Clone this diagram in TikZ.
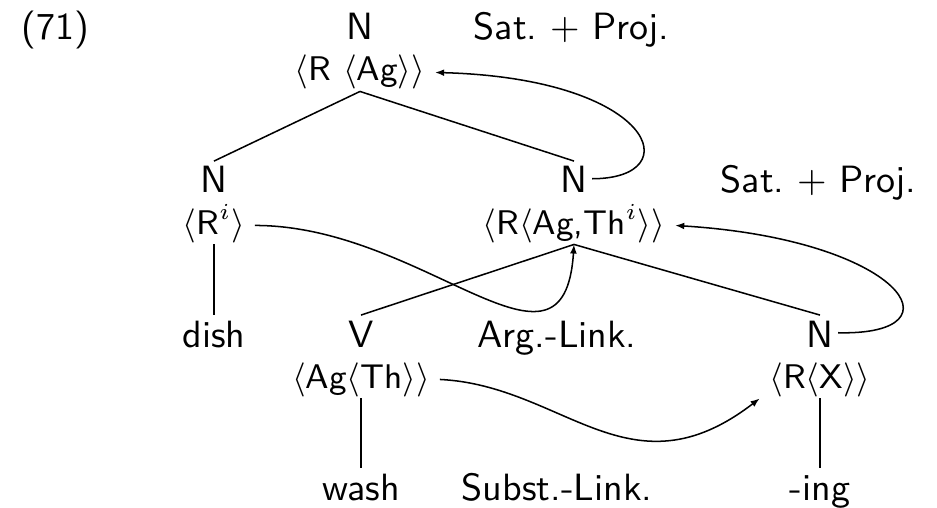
\documentclass[tikz,border=0pt]{standalone}
\usetikzlibrary{arrows.meta}
\begin{document}
\begin{tikzpicture}[x=0.26316pt, y=-0.26316pt,
  cat/.style={font=\sffamily, text height=7.5pt, text depth=0pt, inner xsep=1pt, inner ysep=0.7pt, anchor=base},
  attr/.style={font=\sffamily\small, text height=6.75pt, text depth=2.25pt, inner xsep=2.4pt, inner ysep=0.3pt, anchor=base},
  lbl/.style={font=\sffamily, inner sep=0pt, anchor=base},
  edge/.style={line width=0.4pt},
  link/.style={line width=0.4pt, -{Latex[length=2.4pt,width=1.8pt]}}]
\useasboundingbox (0,0) rectangle (937,508);
% row 1
\node[lbl] (ex) at (55,40) {(71)};
\node[cat] (nt) at (360,40) {N};
\node[attr] (at) at (360,81) {$\langle$R $\langle$Ag$\rangle\rangle$};
\node[lbl, anchor=base west] (sp1) at (473,40) {Sat.\ $+$ Proj.};
% row 2
\node[cat] (nl) at (214,193) {N};
\node[attr] (al) at (214,234) {$\langle$R$^i\rangle$};
\node[cat] (nm) at (574,193) {N};
\node[attr] (am) at (574,234) {$\langle$R$\langle$Ag,Th$^i\rangle\rangle$};
\node[lbl, anchor=base west] (sp2) at (720,193) {Sat.\ $+$ Proj.};
% row 3
\node[cat] (dish) at (214,347) {dish};
\node[cat] (v) at (361,347) {V};
\node[attr] (av) at (361,388) {$\langle$Ag$\langle$Th$\rangle\rangle$};
\node[lbl] (arg) at (557,347) {Arg.-Link.};
\node[cat] (nr) at (820,347) {N};
\node[attr] (ar) at (820,388) {$\langle$R$\langle$X$\rangle\rangle$};
% row 4
\node[cat] (wash) at (361,500) {wash};
\node[lbl] (subst) at (557,500) {Subst.-Link.};
\node[cat] (ing) at (820,500) {-ing};
% tree edges
\draw[edge] (at.south) -- (nl.north);
\draw[edge] (at.south) -- (nm.north);
\draw[edge] (al.south) -- (dish.north);
\draw[edge] (am.south) -- (v.north);
\draw[edge] (am.south) -- (nr.north);
\draw[edge] (av.south) -- (wash.north);
\draw[edge] (ar.south) -- (ing.north);
% links
\draw[link] (nm.east) .. controls +(98,0) and +(220,6) .. (at.east);
\draw[link] (al.east) .. controls +(170,0) and +(-10,155) .. (am.south);
\draw[link] (av.east) .. controls +(124,6) and +(-130,100) .. (ar.south west);
\draw[link] (nr.east) .. controls +(128,3) and +(226,14) .. (am.east);
\end{tikzpicture}
\end{document}
